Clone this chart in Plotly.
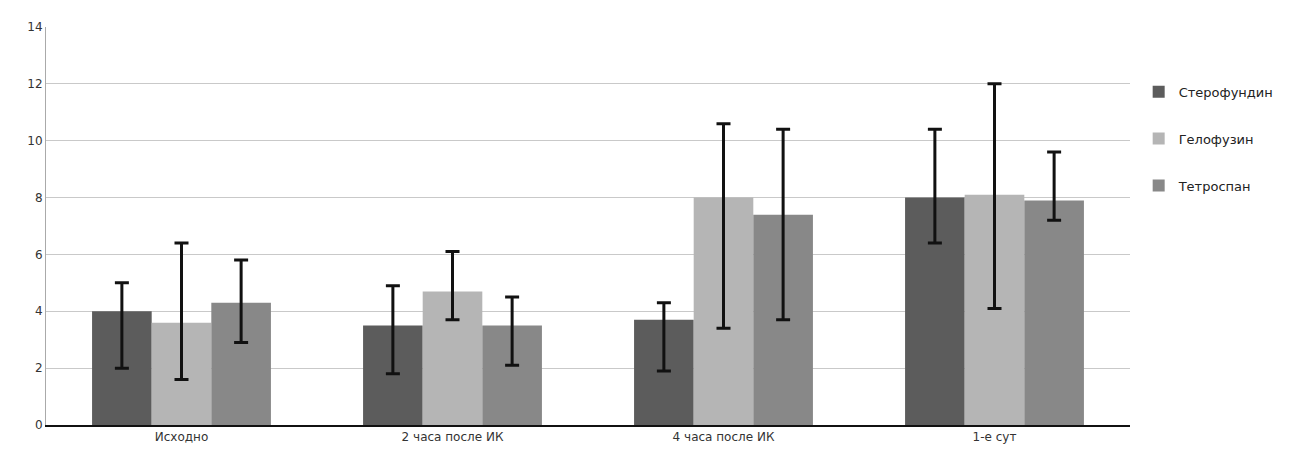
import plotly.graph_objects as go

categories = ["Исходно", "2 часа после ИК", "4 часа после ИК", "1-е сут"]
series_names = ["Стерофундин", "Гелофузин", "Тетроспан"]
means = [
    [4.0, 3.5, 3.7, 8.0],
    [3.6, 4.7, 8.0, 8.1],
    [4.3, 3.5, 7.4, 7.9],
]
err_high = [
    [5.0, 4.9, 4.3, 10.4],
    [6.4, 6.1, 10.6, 12.0],
    [5.8, 4.5, 10.4, 9.6],
]
err_low = [
    [2.0, 1.8, 1.9, 6.4],
    [1.6, 3.7, 3.4, 4.1],
    [2.9, 2.1, 3.7, 7.2],
]
colors = ["#5c5c5c", "#b5b5b5", "#888888"]
y_ticks = [0, 2, 4, 6, 8, 10, 12, 14]

fig = go.Figure()
for i, name in enumerate(series_names):
    plus = [h - m for h, m in zip(err_high[i], means[i])]
    minus = [m - l for l, m in zip(err_low[i], means[i])]
    fig.add_trace(go.Bar(
        name=name, x=categories, y=means[i],
        marker=dict(color=colors[i], line=dict(width=0)),
        legendgroup=name,
        error_y=dict(type="data", symmetric=False, array=plus, arrayminus=minus,
                     color="#111111", thickness=3, width=7),
    ))

fig.update_layout(
    width=1306, height=454,
    barmode="group", bargap=0.34, bargroupgap=0.0,
    paper_bgcolor="white", plot_bgcolor="white",
    margin=dict(l=38, r=184, t=16, b=37),
    font=dict(family="DejaVu Sans, sans-serif", size=12, color="#333333"),
    xaxis=dict(showgrid=False, showline=True, linecolor="#111111", linewidth=2,
               ticks="", tickfont=dict(size=12)),
    yaxis=dict(range=[0, 14], tickvals=y_ticks, showgrid=True, gridcolor="#c9c9c9",
               gridwidth=1, showline=True, linecolor="#aaaaaa", linewidth=1,
               zeroline=False, ticks="", ticklen=4, tickfont=dict(size=12)),
    legend=dict(x=1.008, y=0.875, xanchor="left", yanchor="top",
                font=dict(size=13, color="#222222"), tracegroupgap=27,
                traceorder="grouped", bgcolor="rgba(0,0,0,0)"),
)

fig.write_html("out.html")
